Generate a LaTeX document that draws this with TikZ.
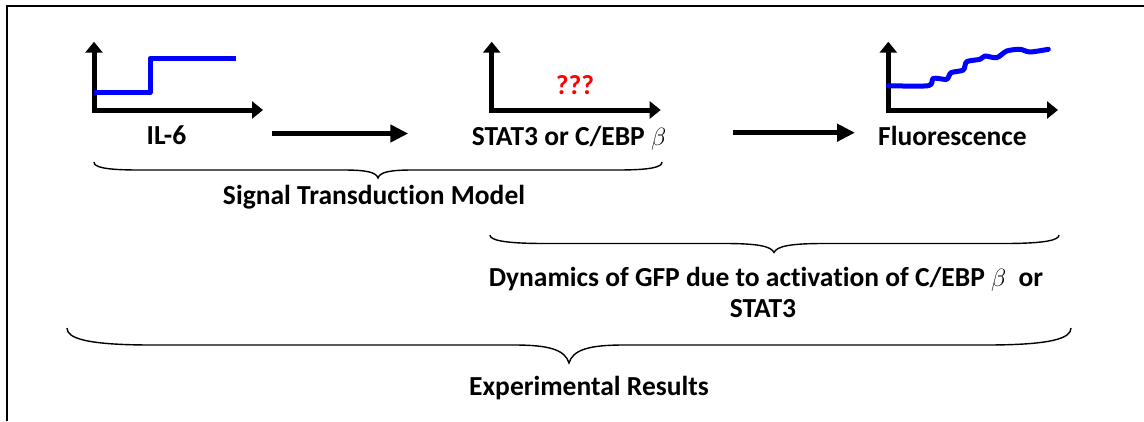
\documentclass[tikz,border=0pt]{standalone}
\usepackage{fontspec}
\setmainfont{Carlito}[Ligatures=CommonOff]
\usetikzlibrary{arrows.meta}

\tikzset{
  axisline/.style={line width=5pt, line join=miter,
    arrows={Triangle[length=11pt,width=17pt]-Triangle[length=11pt,width=17pt]}},
  trace/.style={line width=5pt, blue, line join=round, line cap=round},
  bigarrow/.style={line width=5.5pt, -{Triangle[length=18pt,width=17pt]}},
  curly/.style={line width=1.4pt},
  lbl/.style={inner sep=0pt, anchor=base, font=\bfseries\fontsize{27.5}{31}\selectfont}
}

\begin{document}
\begin{tikzpicture}[x=1pt,y=-1pt]
    \useasboundingbox (0,0) rectangle (1144,421);
    % frame, top and left side only
    \draw [line width=2pt] (7.2,421) -- (7.2,6.2) -- (1144,6.2);

    % input: IL-6 step
    \coordinate (o1) at (94,110);
    \draw [axisline] (94,41.7) -- (o1) -- (263,110);
    \draw [trace, line cap=butt] (94,92.7) -- (150,92.7) -- (150,58.3) -- (235.7,58.3);
    \node [lbl] (il6) at (166.5,144) {IL-6};

    % hidden transcription factor
    \coordinate (o2) at (491.7,110);
    \draw [axisline] (491.7,41.7) -- (o2) -- (660.7,110);
    \node [lbl, red] (unknown) at (575,94) {???};
    \node [lbl] (stat) at (569,145) {STAT3 or C/EBP $\beta$};

    % output: GFP fluorescence
    \coordinate (o3) at (888.3,110);
    \draw [axisline] (888.3,41.7) -- (o3) -- (1058,110);
    \draw [trace] plot [smooth, tension=0.45] coordinates {(888.3,85.7) (928.3,85.7) (933.3,78.3)
      (946.7,79.3) (951,72.7) (963.3,70) (966.7,61.7) (980,59.3) (985,56) (996.7,57.7)
      (1006.7,51) (1020,49.3) (1030,52) (1048.3,49.3)};
    \node [lbl] (fluo) at (952.5,145) {Fluorescence};

    % signal flow
    \coordinate (a1s) at (271.7,133.5);
    \coordinate (a1e) at (408.3,133.5);
    \coordinate (a2s) at (732.7,132.7);
    \coordinate (a2e) at (855,132.7);
    \draw [bigarrow] (a1s) -- (a1e);
    \draw [bigarrow] (a2s) -- (a2e);

    % braces
    \draw [curly] (94,162) .. controls (94,167) and (104,170) .. (139,170) -- (343,170)
      .. controls (366,170) and (376,172) .. (378,178)
      .. controls (380,172) and (390,170) .. (413,170) -- (617,170)
      .. controls (652,170) and (662,167) .. (662,162);
    \node [lbl] (stm) at (374,204) {Signal Transduction Model};

    \draw [curly] (490,235) .. controls (490,240) and (503,243.5) .. (545,243.5) -- (724,243.5)
      .. controls (757,243.5) and (771,246) .. (774,252.5)
      .. controls (777,246) and (791,243.5) .. (824,243.5) -- (1004,243.5)
      .. controls (1046,243.5) and (1059,240) .. (1059,235);
    \node [lbl] (gfp) at (766,286) {Dynamics of GFP due to activation of C/EBP $\beta$~~or};
    \node [lbl] (gfpb) at (763,317) {STAT3};

    \draw [curly] (67,328) .. controls (67,338) and (85,345) .. (152,345) -- (514,345)
      .. controls (550,345) and (565,350) .. (569,363)
      .. controls (573,350) and (588,345) .. (624,345) -- (986,345)
      .. controls (1053,345) and (1071,338) .. (1071,328);
    \node [lbl] (expres) at (589,395) {Experimental Results};
\end{tikzpicture}
\end{document}
